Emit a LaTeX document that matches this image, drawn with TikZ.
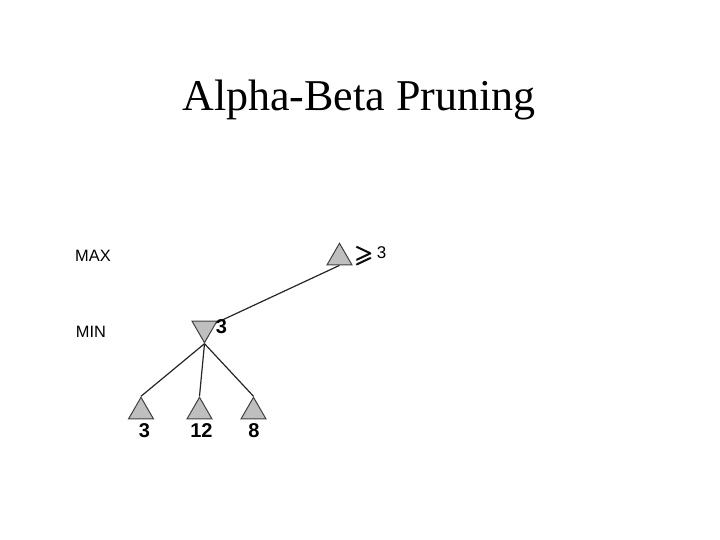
\documentclass[tikz,border=0pt]{standalone}
\usepackage{amsmath}
\usepackage{amssymb}
\usepackage{fontspec}
\setmainfont{Liberation Serif}
\setsansfont{Liberation Sans}
\usepackage{tikz}
\usetikzlibrary{positioning,shapes.geometric,backgrounds}

\begin{document}
\begin{tikzpicture}[x=0.5pt,y=-0.5pt,
  tri/.style={regular polygon,regular polygon sides=3,draw=black!75,fill=black!25,
    line width=0.5pt,inner sep=0pt,minimum size=14.4pt},
  maxtri/.style={tri},
  mintri/.style={tri,shape border rotate=180},
  branch/.style={draw=black!85,line width=0.6pt},
  lvl/.style={font=\sffamily\fontsize{8.2}{9}\selectfont,inner sep=0pt},
  val/.style={font=\sffamily\bfseries\fontsize{10}{11}\selectfont,inner sep=0pt}]
\useasboundingbox (0,0) rectangle (720,540);
\node[font=\fontsize{22}{26}\selectfont,anchor=base] (title) at (359,111) {Alpha-Beta Pruning};
\node[lvl] (maxlbl) at (93,256) {MAX};
\node[lvl] (minlbl) at (91,332) {MIN};
\node[maxtri] (root) at (339.5,257.7) {};
\node[mintri] (mid) at (204.5,328.3) {};
\node[maxtri] (leafa) at (141,411.7) {};
\node[maxtri] (leafb) at (199.5,411.7) {};
\node[maxtri] (leafc) at (253.5,411.7) {};
\node[anchor=west,inner sep=0pt] (rootval) at (354.5,256)
  {\raisebox{-2pt}{\fontsize{12}{13}\selectfont$\pmb{\geqslant}$}\,\sffamily\fontsize{8.5}{9}\selectfont 3};
\node[val] (midval) at (221.5,326.5) {3};
\node[val] (leafaval) at (144.5,430.5) {3};
\node[val] (leafbval) at (201.5,430.5) {12};
\node[val] (leafcval) at (254,430.5) {8};
\begin{scope}[on background layer]
\draw[branch] (root.side 2) -- (mid.center);
\draw[branch] (mid.corner 1) -- (leafa.corner 1);
\draw[branch] (mid.corner 1) -- (leafb.corner 1);
\draw[branch] (mid.corner 1) -- (leafc.corner 1);
\end{scope}
\end{tikzpicture}
\end{document}
